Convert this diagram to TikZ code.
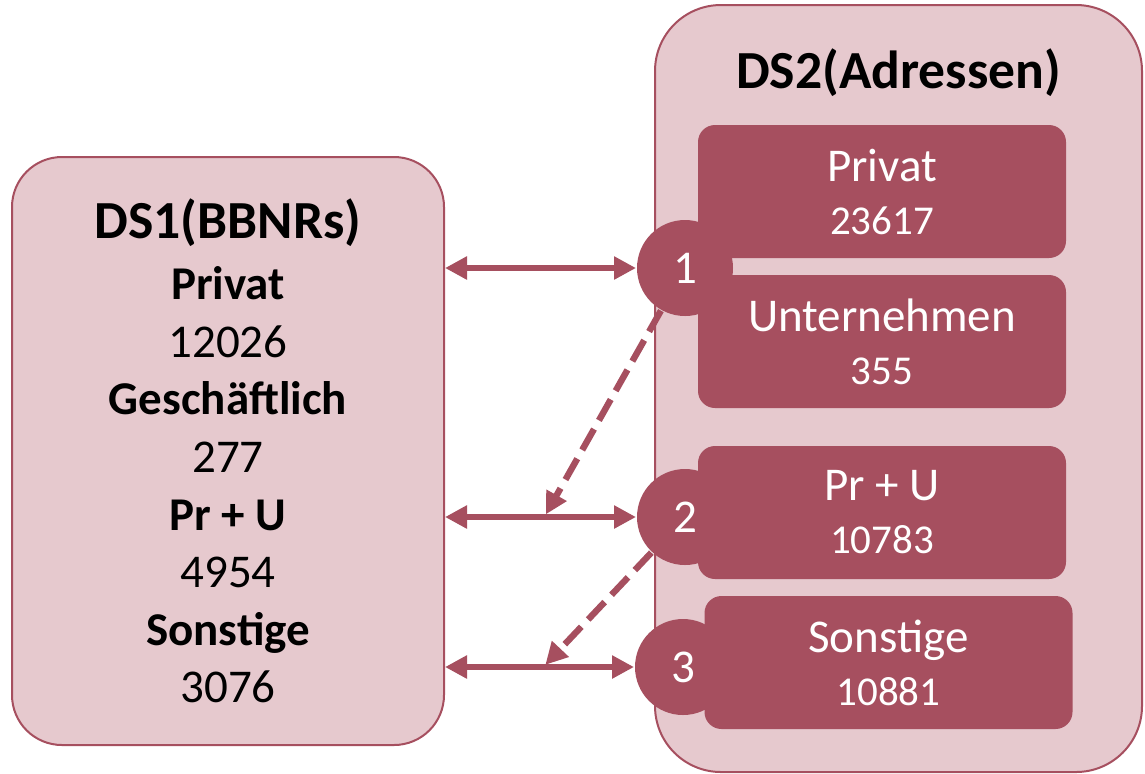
\documentclass[tikz,border=0pt]{standalone}
\usepackage{fontspec}
\setmainfont{Carlito}
\usetikzlibrary{arrows.meta,positioning,calc}
\definecolor{dsdark}{RGB}{166,79,95}
\definecolor{dslight}{RGB}{230,201,206}

\begin{document}
\begin{tikzpicture}[x=0.5pt, y=-0.5pt, line width=1pt,
    bigbox/.style={rectangle, draw=dsdark, fill=dslight, line width=1pt, inner sep=0pt},
    subbox/.style={rectangle, fill=dsdark, text=white, rounded corners=8.5pt, minimum width=184pt, minimum height=66.5pt, align=center, inner sep=0pt, font=\fontsize{23.5}{26.5}\selectfont},
    numcirc/.style={circle, fill=dsdark, text=white, minimum size=48pt, inner sep=0pt, font=\fontsize{23.5}{27}\selectfont},
    link/.style={draw=dsdark, line width=3.2pt, {Triangle[length=11pt,width=11pt]}-{Triangle[length=11pt,width=11pt]}},
    hint/.style={draw=dsdark, line width=3.2pt, dash pattern=on 12pt off 5pt, -{Triangle[length=11pt,width=11pt]}, shorten >=1.5pt}]
    \useasboundingbox (0,0) rectangle (1145,773);

    %Nodes
    \node (DS1) [bigbox, rounded corners=25pt, minimum width=216pt, minimum height=294pt, align=center, font=\fontsize{23.5}{28.8}\selectfont] at (228,451)
        {{\fontsize{26.8}{30}\selectfont\bfseries DS1(BBNRs)}\\[1.7pt]
         \textbf{Privat}\\ 12026\\ \textbf{Geschäftlich}\\ 277\\ \textbf{Pr + U}\\ 4954\\ \textbf{Sonstige}\\ 3076};

    \node (DS2) [bigbox, rounded corners=33pt, minimum width=243.5pt, minimum height=383.5pt] at (898.5,388.5) {};
    \node (DS2title) [below=22pt of DS2.north, font=\fontsize{26.8}{30}\selectfont\bfseries, inner sep=0pt] {DS2(Adressen)};

    \node (Privat)      [subbox] at (882,191.5) {Privat\\{\fontsize{20.5}{26.5}\selectfont 23617}};
    \node (Unternehmen) [subbox, below=7.5pt of Privat]            {Unternehmen\\{\fontsize{20.5}{26.5}\selectfont 355}};
    \node (PrU)         [subbox, below=18pt of Unternehmen]        {Pr + U\\{\fontsize{20.5}{26.5}\selectfont 10783}};
    \node (Sonstige)    [subbox, below=7.5pt of PrU, xshift=3.25pt] {Sonstige\\{\fontsize{20.5}{26.5}\selectfont 10881}};

    \node (C1) [numcirc] at (685,268) {1};
    \node (C2) [numcirc] at (685,517) {2};
    \node (C3) [numcirc] at (683,667) {3};

    % points where the dashed hints end
    \coordinate (Hit2) at ($(DS1.east |- C2)!0.52!(C2.west)$);
    \coordinate (Hit3) at ($(DS1.east |- C3)!0.52!(C3.west)$);

    %Lines
    \draw[link] (DS1.east |- C1) -- (C1.west);
    \draw[link] (DS1.east |- C2) -- (C2.west);
    \draw[link] (DS1.east |- C3) -- (C3.west);
    \draw[hint] (C1) -- (Hit2);
    \draw[hint] (C2) -- (Hit3);
\end{tikzpicture}
\end{document}
